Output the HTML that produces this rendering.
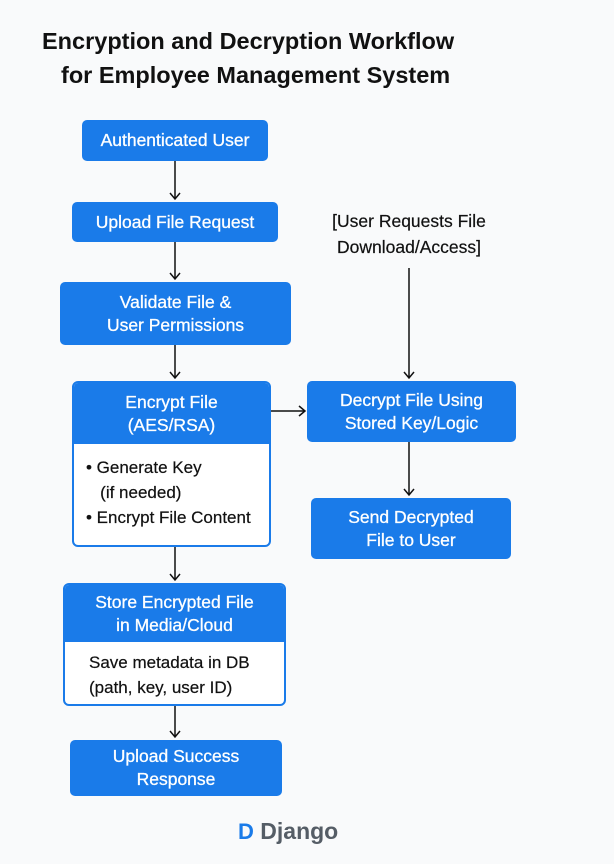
<!DOCTYPE html>
<html><head><style>
body{margin:0;width:614px;height:864px;background:#f9fafb;font-family:"Liberation Sans",sans-serif;position:relative;overflow:hidden}
.b{position:absolute;background:#1a7be9;color:#fff;border-radius:5px;display:flex;align-items:center;justify-content:center;text-align:center;font-size:17.5px;line-height:23px;box-sizing:border-box;-webkit-text-stroke:0.3px #fff}
.c{position:absolute;border:2px solid #1a7be9;border-radius:6px;background:#fff;box-sizing:border-box;overflow:hidden}
.c .h{background:#1a7be9;color:#fff;text-align:center;font-size:17.5px;line-height:23px;display:flex;align-items:center;justify-content:center;-webkit-text-stroke:0.3px #fff}
.c .t{color:#111;font-size:17px;line-height:25px;white-space:nowrap;-webkit-text-stroke:0.2px #111}
.t1{position:absolute;font-weight:bold;font-size:23.5px;color:#111;white-space:nowrap}
</style></head><body>
<div class="t1" style="left:42px;top:28px">Encryption and Decryption Workflow</div>
<div class="t1" style="left:61px;top:62px">for Employee Management System</div>

<div class="b" style="left:82px;top:120px;width:186px;height:41px">Authenticated User</div>
<div class="b" style="left:72px;top:202px;width:206px;height:40px">Upload File Request</div>
<div class="b" style="left:60px;top:282px;width:231px;height:63px">Validate File &amp;<br>User Permissions</div>
<div class="c" style="left:72px;top:381px;width:199px;height:166px">
 <div class="h" style="height:61px">Encrypt File<br>(AES/RSA)</div>
 <div class="t" style="padding:11px 0 0 12px">• Generate Key<br>&nbsp;&nbsp;&nbsp;(if needed)<br>• Encrypt File Content</div>
</div>
<div class="b" style="left:307px;top:381px;width:209px;height:61px">Decrypt File Using<br>Stored Key/Logic</div>
<div class="b" style="left:311px;top:498px;width:200px;height:61px">Send Decrypted<br>File to User</div>
<div class="c" style="left:63px;top:583px;width:223px;height:123px">
 <div class="h" style="height:57px">Store Encrypted File<br>in Media/Cloud</div>
 <div class="t" style="padding:8px 0 0 24px">Save metadata in DB<br>(path, key, user ID)</div>
</div>
<div class="b" style="left:70px;top:740px;width:212px;height:56px">Upload Success<br>Response</div>

<div style="position:absolute;left:318px;top:208px;font-size:17.5px;line-height:26px;color:#111;text-align:center;width:182px;-webkit-text-stroke:0.2px #111">[User Requests File<br>Download/Access]</div>

<div style="position:absolute;left:238px;top:818px;font-size:23px;font-weight:bold;color:#555d66"><span style="color:#1a7be9;font-size:22px">D</span> Django</div>

<svg width="614" height="864" style="position:absolute;left:0;top:0" fill="none" stroke="#111" stroke-width="1.5">
<path d="M175 161V199M170 193l5 6 5-6"/>
<path d="M175 242V279M170 273l5 6 5-6"/>
<path d="M175 345V378M170 372l5 6 5-6"/>
<path d="M175 547V580M170 574l5 6 5-6"/>
<path d="M175 706V737M170 731l5 6 5-6"/>
<path d="M271 411H305M299 406l6 5-6 5"/>
<path d="M409 268V378M404 372l5 6 5-6"/>
<path d="M409 442V495M404 489l5 6 5-6"/>
</svg>
</body></html>
